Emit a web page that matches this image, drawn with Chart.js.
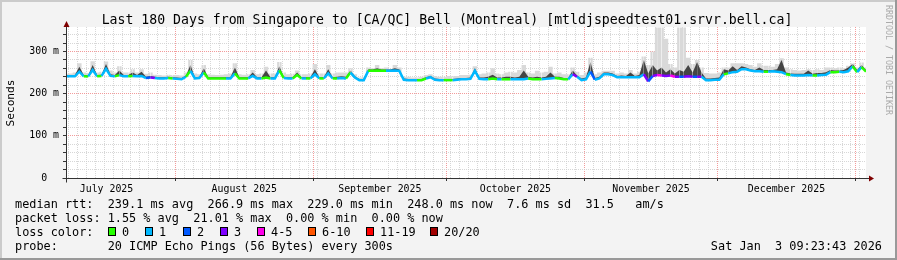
<!DOCTYPE html>
<html>
<head>
<meta charset="utf-8">
<title>SmokePing 180 days</title>
<script src="https://cdn.jsdelivr.net/npm/chart.js@4.4.1/dist/chart.umd.min.js"></script>
<style>
  html, body { margin: 0; padding: 0; background: #f3f3f3; }
  canvas { display: block; }
</style>
</head>
<body>
<canvas id="smokeChart" width="897" height="260"></canvas>
<script>
// window starts Jul 7 2025 09:23, one value per day (181 samples)
const monthNames = ["July 2025", "August 2025", "September 2025", "October 2025", "November 2025", "December 2025"];
// day offset of the 1st of each month (Jul 1 ... Jan 1)
const monthStarts = [-6.39, 24.61, 55.61, 85.61, 116.61, 146.61, 177.61];

// median rtt in ms
const median = [
  241,241,241,252,241,241,256,241,242,259,
  242,241,244,241,241,242,241,242,237,238,
  237,236,236,237,236,235,234,240,254,236,
  237,250,236,236,236,236,236,236,248,236,
  236,236,242,236,236,238,236,236,255,237,
  236,236,244,236,236,236,246,236,236,248,
  236,236,237,236,250,238,232,232,254,254,
  255,254,254,254,255,254,233,232,232,232,
  232,236,239,233,232,232,232,232,233,234,
  234,235,254,235,234,234,236,234,234,234,
  234,234,234,234,236,234,234,234,235,236,
  237,236,234,234,246,240,232,234,252,233,
  236,246,246,244,239,239,239,239,239,239,
  246,229,242,244,243,242,243,240,240,240,
  241,240,240,240,232,232,233,233,246,248,
  251,252,258,258,255,253,253,252,252,253,
  252,251,246,244,243,243,243,244,243,243,
  244,245,251,251,252,251,253,265,251,263,
  252
];
// top of the dark smoke (inner pings)
const smokeDark = [
  244,244,244,264,244,244,268,244,245,270,
  246,244,255,244,244,250,244,252,240,242,
  240,239,239,240,239,238,237,243,268,239,
  240,260,239,239,239,239,239,239,262,239,
  239,239,250,239,239,255,239,239,265,240,
  239,239,250,239,239,239,258,239,239,258,
  239,240,241,240,255,241,235,235,258,257,
  260,257,257,257,260,257,236,235,235,235,
  235,239,242,236,235,235,235,235,236,237,
  237,238,260,238,238,240,245,238,238,240,
  240,238,240,255,240,238,240,238,240,250,
  240,240,237,237,255,243,236,238,275,237,
  240,250,250,248,242,243,242,250,242,244,
  280,248,268,255,262,250,258,248,256,252,
  268,250,275,250,236,236,237,238,258,255,
  265,256,265,262,258,256,262,256,256,256,
  258,280,250,248,247,247,247,255,247,249,
  249,251,256,255,255,256,262,270,256,268,
  256
];
// top of the light smoke (slowest pings)
const smokeTop = [
  247,248,250,272,250,249,277,250,252,276,
  255,250,265,250,250,258,250,258,247,250,
  245,244,243,245,244,244,243,250,280,248,
  246,268,246,245,244,245,246,248,272,246,
  245,246,256,246,248,264,248,248,275,250,
  246,247,255,246,246,248,270,248,248,268,
  248,250,250,250,260,246,238,238,262,260,
  268,260,262,258,268,262,240,240,238,238,
  240,244,246,242,240,240,242,241,242,244,
  244,245,265,246,248,250,260,248,246,250,
  252,250,256,268,250,248,254,250,252,264,
  248,250,246,246,262,252,244,250,285,246,
  250,254,254,254,248,250,248,256,248,252,
  288,268,300,357,357,330,270,262,357,357,
  285,270,280,262,249,248,248,250,262,262,
  272,272,272,270,268,264,272,266,266,264,
  270,284,262,258,256,255,256,258,256,258,
  256,262,262,260,262,260,266,272,262,274,
  262
];
// loss class per day (index into lossColors)
const lossIdx = [
  1,1,1,1,0,1,1,0,1,1,
  1,0,1,1,0,1,1,1,2,3,
  1,1,1,0,1,1,1,0,1,1,
  1,0,0,0,0,0,1,1,0,0,
  0,1,1,1,0,0,1,1,0,1,
  1,0,0,1,0,1,1,0,1,1,
  0,1,1,0,1,1,1,1,0,0,
  0,0,1,1,1,1,1,1,1,0,
  0,1,1,1,1,0,0,1,1,1,
  1,1,1,1,1,0,0,1,0,0,
  1,1,1,1,0,0,0,1,1,1,
  0,0,0,1,3,1,1,1,2,1,
  1,1,1,1,1,1,1,1,1,1,
  3,2,3,4,3,3,4,3,2,3,
  3,2,3,1,1,1,1,1,0,1,
  1,1,1,1,1,1,1,0,1,1,
  1,1,0,1,1,1,1,1,0,1,
  1,1,0,0,1,1,1,0,1,0,
  1
];

const lossColors = ["#26ff00", "#00b8ff", "#0059ff", "#7e00ff", "#ff00ea", "#ff5500", "#ff0000", "#a10000"];
const lossLabels = ["0", "1", "2", "3", "4-5", "6-10", "11-19", "20/20"];

const titleText = "Last 180 Days from Singapore to [CA/QC] Bell (Montreal) [mtldjspeedtest01.srvr.bell.ca]";
const rttLine = "median rtt:  239.1 ms avg  266.9 ms max  229.0 ms min  248.0 ms now  7.6 ms sd  31.5   am/s";
const lossLine = "packet loss: 1.55 % avg  21.01 % max  0.00 % min  0.00 % now";
const probeLine = "probe:       20 ICMP Echo Pings (56 Bytes) every 300s";
const stampText = "Sat Jan  3 09:23:43 2026";

const days = median.map((_, i) => i);
const monthMids = monthNames.map((_, i) => (monthStarts[i] + monthStarts[i + 1]) / 2);

const MONO = '"DejaVu Sans Mono"';
const GRID = "rgba(205,205,205,0.8)";
const MGRID = "rgba(240,130,130,0.8)";
const near = (list, v) => list.findIndex(m => Math.abs(m - v) < 0.01);

// frame, axes with arrows, title and the legend block below the graph
const rrdDecor = {
  id: "rrdDecor",
  beforeDraw(chart) {
    const { ctx, chartArea: a } = chart;
    ctx.save();
    ctx.fillStyle = "#f3f3f3";
    ctx.fillRect(0, 0, chart.width, chart.height);
    ctx.fillStyle = "#ffffff";
    ctx.fillRect(a.left, a.top, a.right - a.left, a.bottom - a.top);
    ctx.restore();
  },
  afterDraw(chart) {
    const { ctx, chartArea: a } = chart;
    const x0 = Math.round(a.left) + 0.5;
    const y0 = Math.round(chart.scales.y.getPixelForValue(0)) + 0.5;
    ctx.save();

    // axes
    ctx.strokeStyle = "#333333";
    ctx.lineWidth = 1;
    ctx.beginPath();
    ctx.moveTo(x0, y0 + 4);
    ctx.lineTo(x0, a.top - 1);
    ctx.moveTo(x0 - 4, y0);
    ctx.lineTo(a.right + 3, y0);
    ctx.stroke();
    ctx.fillStyle = "#7f0000";
    ctx.beginPath();
    ctx.moveTo(x0, a.top - 6);
    ctx.lineTo(x0 - 3, a.top);
    ctx.lineTo(x0 + 3, a.top);
    ctx.closePath();
    ctx.fill();
    ctx.beginPath();
    ctx.moveTo(a.right + 8, y0);
    ctx.lineTo(a.right + 3, y0 - 3);
    ctx.lineTo(a.right + 3, y0 + 3);
    ctx.closePath();
    ctx.fill();

    // title
    ctx.fillStyle = "#000000";
    ctx.font = "13.2px " + MONO;
    ctx.textAlign = "center";
    ctx.textBaseline = "alphabetic";
    ctx.fillText(titleText, 447, 24);

    // y axis title
    ctx.save();
    ctx.translate(14, 103);
    ctx.rotate(-Math.PI / 2);
    ctx.font = "11.2px " + MONO;
    ctx.textAlign = "center";
    ctx.fillText("Seconds", 0, 0);
    ctx.restore();

    // watermark on the right edge
    ctx.save();
    ctx.translate(885.5, 5);
    ctx.rotate(Math.PI / 2);
    ctx.font = "8.3px " + MONO;
    ctx.fillStyle = "#aaaaaa";
    ctx.textAlign = "left";
    ctx.fillText("RRDTOOL / TOBI OETIKER", 0, 0);
    ctx.restore();

    // legend lines
    ctx.font = "11.85px " + MONO;
    ctx.textAlign = "left";
    ctx.fillText(rttLine, 15, 208);
    ctx.fillText(lossLine, 15, 222);
    ctx.fillText("loss color:", 15, 236);
    ctx.fillText(probeLine, 15, 250);
    const boxX = [108, 145, 183, 220, 257, 308, 366, 430];
    const labX = [122, 159, 197, 234, 271, 322, 380, 444];
    lossLabels.forEach((lab, i) => {
      ctx.fillStyle = lossColors[i];
      ctx.fillRect(boxX[i], 227, 8, 9);
      ctx.strokeStyle = "#000000";
      ctx.strokeRect(boxX[i] + 0.5, 227.5, 7, 8);
      ctx.fillStyle = "#000000";
      ctx.fillText(lab, labX[i], 236);
    });
    ctx.textAlign = "right";
    ctx.fillText(stampText, 882, 250);

    // 3d frame
    ctx.fillStyle = "#cbcbcb";
    ctx.fillRect(0, 0, chart.width, 2);
    ctx.fillRect(0, 0, 2, chart.height);
    ctx.fillStyle = "#999999";
    ctx.fillRect(0, chart.height - 2, chart.width, 2);
    ctx.fillRect(chart.width - 2, 0, 2, chart.height);
    ctx.restore();
  }
};

new Chart(document.getElementById("smokeChart"), {
  type: "line",
  data: {
    labels: days,
    datasets: [
      {
        label: "median",
        data: median,
        order: 0,
        borderWidth: 2.5,
        pointRadius: 0,
        tension: 0,
        fill: false,
        borderColor: lossColors[1],
        segment: {
          borderColor: c => lossColors[lossIdx[c.p0DataIndex]]
        }
      },
      {
        label: "smoke dark",
        data: smokeDark,
        order: 1,
        borderWidth: 0,
        pointRadius: 0,
        tension: 0,
        fill: 0,
        backgroundColor: "#454545"
      },
      {
        label: "smoke",
        data: smokeTop,
        order: 2,
        borderWidth: 0,
        pointRadius: 0,
        stepped: "middle",
        fill: 0,
        backgroundColor: "#d9d9d9"
      }
    ]
  },
  options: {
    responsive: false,
    devicePixelRatio: 1,
    animation: false,
    events: [],
    layout: {
      autoPadding: false,
      padding: { top: 27, right: 31, left: 0, bottom: 0 }
    },
    plugins: {
      legend: { display: false },
      tooltip: { enabled: false },
      title: { display: false }
    },
    scales: {
      x: {
        type: "linear",
        min: 0,
        max: 180,
        afterFit: s => { s.height = 82; s.paddingLeft = 0; s.paddingRight = 0; },
        afterBuildTicks: s => {
          const vals = new Map();
          for (let k = -100; k <= 100; k++) {
            const v = monthStarts[1] + 2 * k;
            if (v >= 0 && v <= 180) vals.set(v.toFixed(2), v);
          }
          monthStarts.concat(monthMids).forEach(v => {
            if (v >= 0 && v <= 180) vals.set(v.toFixed(2), v);
          });
          s.ticks = [...vals.values()].sort((p, q) => p - q).map(v => ({ value: v }));
        },
        border: { display: false, dash: [1, 1] },
        grid: {
          lineWidth: 1,
          tickLength: 3,
          color: c => near(monthMids, c.tick.value) >= 0 ? "rgba(0,0,0,0)"
            : near(monthStarts, c.tick.value) >= 0 ? MGRID : GRID,
          tickColor: c => near(monthStarts, c.tick.value) >= 0 ? "#333333" : "rgba(0,0,0,0)"
        },
        ticks: {
          autoSkip: false,
          maxRotation: 0,
          padding: 2,
          color: "#000000",
          font: { family: MONO, size: 9.9 },
          callback: v => {
            const i = near(monthMids, v);
            return i >= 0 ? monthNames[i] : "";
          }
        }
      },
      y: {
        min: 0,
        max: 358,
        afterFit: s => { s.width = 66; s.paddingTop = 0; s.paddingBottom = 0; },
        afterBuildTicks: s => {
          const t = [];
          for (let v = 0; v <= 340; v += 20) t.push({ value: v });
          s.ticks = t;
        },
        border: { display: false, dash: [1, 1] },
        grid: {
          lineWidth: 1,
          tickLength: 3,
          color: c => (c.tick.value % 100 === 0 && c.tick.value > 0) ? MGRID : GRID,
          tickColor: "#333333"
        },
        ticks: {
          autoSkip: false,
          padding: 4,
          color: "#000000",
          font: { family: MONO, size: 9.9 },
          callback: v => v === 0 ? "0  " : (v % 100 === 0 ? v + " m" : "")
        }
      }
    }
  },
  plugins: [rrdDecor]
});
</script>
</body>
</html>
